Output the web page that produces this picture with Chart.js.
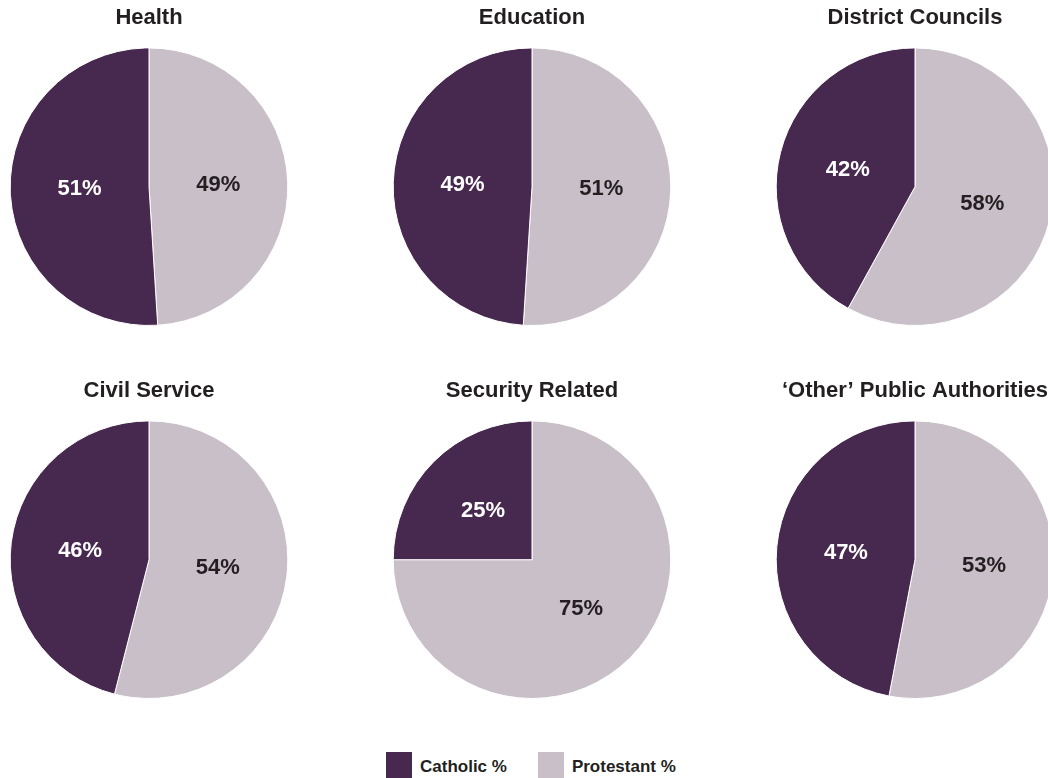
<!DOCTYPE html>
<html>
<head>
<meta charset="utf-8">
<script src="https://cdn.jsdelivr.net/npm/chart.js@4"></script>
<style>
  html, body { margin: 0; padding: 0; background: #fff; }
  #wrap { position: relative; width: 1048px; height: 778px; overflow: hidden; font-family: "Liberation Sans", Arial, sans-serif; }
  .pie { position: absolute; }
  #legend { position: absolute; top: 752px; left: 386px; display: flex; align-items: flex-start; }
  .item { display: flex; align-items: flex-start; margin-right: 31px; }
  .swatch { width: 26px; height: 26px; margin-right: 8px; }
  .item span { font-weight: bold; font-size: 17px; color: #231f20; line-height: 17px; margin-top: 6px; }
</style>
</head>
<body>
<div id="wrap">
  <div id="legend">
    <div class="item"><div class="swatch" style="background:#47284f"></div><span>Catholic %</span></div>
    <div class="item"><div class="swatch" style="background:#c8bfc8"></div><span>Protestant %</span></div>
  </div>
</div>
<script>
// Datos de cada grafico
const categorias = ['Health', 'Education', 'District Councils', 'Civil Service', 'Security Related', '\u2018Other\u2019 Public Authorities'];
const catolicos = [51, 49, 42, 46, 25, 47];
const protestantes = [49, 51, 58, 54, 75, 53];
const series = ['Protestant %', 'Catholic %'];

const colorOscuro = '#47284f';
const colorClaro = '#c8bfc8';
const colorTexto = '#231f20';

// Plugin para escribir los porcentajes dentro de cada porcion
const etiquetasPlugin = {
    id: 'etiquetas',
    afterDatasetsDraw(chart) {
        const ctx = chart.ctx;
        const meta = chart.getDatasetMeta(0);
        ctx.save();
        ctx.font = 'bold 22px "Liberation Sans", Arial, sans-serif';
        ctx.textAlign = 'center';
        ctx.textBaseline = 'middle';
        meta.data.forEach(function (arc, i) {
            const pos = arc.getCenterPoint();
            ctx.fillStyle = i === 1 ? '#ffffff' : colorTexto;
            ctx.fillText(chart.data.datasets[0].data[i] + '%', pos.x, pos.y);
        });
        ctx.restore();
    }
};

const wrap = document.getElementById('wrap');
const centrosX = [148.5, 532, 915];
const filaY = [0, 372.5];

categorias.forEach(function (titulo, i) {
    const col = i % 3;
    const fila = Math.floor(i / 3);
    const canvas = document.createElement('canvas');
    canvas.className = 'pie';
    canvas.width = 300;
    canvas.height = 326;
    canvas.style.left = (centrosX[col] - 150) + 'px';
    canvas.style.top = filaY[fila] + 'px';
    wrap.appendChild(canvas);

    new Chart(canvas.getContext('2d'), {
        type: 'pie',
        data: {
            labels: series,
            datasets: [{
                data: [protestantes[i], catolicos[i]],
                backgroundColor: [colorClaro, colorOscuro],
                borderColor: '#ffffff',
                borderWidth: 1
            }]
        },
        options: {
            responsive: false,
            animation: false,
            layout: { padding: 0 },
            plugins: {
                legend: { display: false },
                tooltip: { enabled: false },
                title: {
                    display: true,
                    text: titulo,
                    color: colorTexto,
                    font: { family: '"Liberation Sans", Arial, sans-serif', size: 22, weight: 'bold' },
                    padding: { top: 5, bottom: 16 }
                }
            }
        },
        plugins: [etiquetasPlugin]
    });
});
</script>
</body>
</html>
